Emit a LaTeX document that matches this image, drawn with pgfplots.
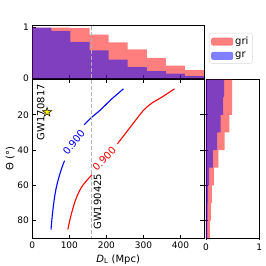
\documentclass[border=0pt]{standalone}
\usepackage{fontspec}
\setmainfont{DejaVu Sans}
\usepackage{pgfplots}
\pgfplotsset{compat=1.18}

\pgfdeclareplotmark{fstar}{%
 \pgfpathmoveto{\pgfpointpolar{90}{\pgfplotmarksize}}%
 \pgfpathlineto{\pgfpointpolar{126}{0.382*\pgfplotmarksize}}%
 \pgfpathlineto{\pgfpointpolar{162}{\pgfplotmarksize}}%
 \pgfpathlineto{\pgfpointpolar{198}{0.382*\pgfplotmarksize}}%
 \pgfpathlineto{\pgfpointpolar{234}{\pgfplotmarksize}}%
 \pgfpathlineto{\pgfpointpolar{270}{0.382*\pgfplotmarksize}}%
 \pgfpathlineto{\pgfpointpolar{306}{\pgfplotmarksize}}%
 \pgfpathlineto{\pgfpointpolar{342}{0.382*\pgfplotmarksize}}%
 \pgfpathlineto{\pgfpointpolar{18}{\pgfplotmarksize}}%
 \pgfpathlineto{\pgfpointpolar{54}{0.382*\pgfplotmarksize}}%
 \pgfpathclose
 \pgfusepathqfillstroke}

\begin{document}
\begin{tikzpicture}
\useasboundingbox (0pt,0pt) rectangle (266pt,266pt);
\pgfplotsset{
  every axis/.append style={
    scale only axis,
    axis line style={line width=0.8pt, black},
    tick style={line width=0.7pt, black},
    major tick length=3.5pt,
    tick label style={font=\fontsize{9}{10}\selectfont},
    label style={font=\fontsize{10}{12}\selectfont},
    /pgf/number format/assume math mode=true,
  },
}
% ---------------- main axis ----------------
\begin{axis}[
  at={(32.3pt,27.7pt)}, anchor=south west,
  width=171.7pt, height=158.8pt,
  xmin=0, xmax=463.5, ymin=0, ymax=90, y dir=reverse,
  xtick={0,100,200,300,400}, ytick={20,40,60,80},
  tick align=inside,
  xlabel={\textit{D}\textsubscript{L} (Mpc)},
  ylabel={Θ (°)},
  xlabel style={at={(axis description cs:0.5,-0.132)}, anchor=center},
  ylabel style={at={(axis description cs:-0.128,0.5)}, anchor=center},
]
\addplot[blue, line width=1.1pt, smooth] coordinates {(50.5,85) (54,77) (58.5,69) (64,62) (71,56) (79,50.5) (87,46)};
\addplot[blue, line width=1.1pt, smooth] coordinates {(140,25.6) (160,21.5) (183,17.4) (214.6,11) (246,5.3)};
\addplot[red, line width=1.1pt, smooth] coordinates {(96,85) (101,80) (107,75) (114,70) (121,66) (130,62) (138,59.5) (150,56.5) (161,54)};
\addplot[red, line width=1.1pt, smooth] coordinates {(230,36.4) (237,34.5) (273,24.7) (300,17.5) (322.7,13.4) (349.7,10) (383.8,5.3)};
\addplot[gray!60, line width=1pt, dash pattern=on 4pt off 2pt] coordinates {(159,0) (159,90)};
\addplot[only marks, mark=fstar, mark size=4.8pt, mark options={fill=yellow, draw=black, line width=0.5pt}] coordinates {(40,18.5)};
\node[rotate=90, font=\fontsize{10}{12}\selectfont] at (axis cs:23,18.5) {GW170817};
\node[rotate=90, font=\fontsize{10}{12}\selectfont] at (axis cs:176,69.3) {GW190425};
\node[blue, rotate=52, font=\fontsize{10}{12}\selectfont] at (axis cs:112,35.5) {0.900};
\node[red, rotate=46, font=\fontsize{10}{12}\selectfont] at (axis cs:194,45) {0.900};
\end{axis}
% ---------------- top histogram ----------------
\begin{axis}[
  at={(32.3pt,187.7pt)}, anchor=south west,
  width=171.7pt, height=53.3pt,
  xmin=0, xmax=463.5, ymin=0, ymax=1.05,
  xtick={100,200,300,400}, xticklabels={},
  ytick={0,1}, xtick pos=bottom, ytick pos=left,
  tick align=inside,
  legend style={at={(axis description cs:1.029,0.85)}, anchor=north west,
    draw=gray!30, rounded corners=2pt, font=\fontsize{10}{12}\selectfont,
    inner xsep=2pt, inner ysep=2pt, row sep=2pt},
  legend cell align=left,
  legend image code/.code={\fill[#1] (0pt,-4pt) rectangle (22pt,4pt);},
]
\addplot[const plot, fill=red, fill opacity=0.5, draw=none] coordinates {(0,1.0) (51.5,1.0) (103,0.99) (154.5,0.86) (206,0.71) (257.5,0.57) (309,0.40) (360.5,0.25) (412,0.16) (463.5,0.16)} \closedcycle;
\addlegendentry{gri}
\addplot[const plot, fill=blue, fill opacity=0.5, draw=none] coordinates {(0,1.0) (51.5,0.935) (103,0.72) (154.5,0.55) (206,0.37) (257.5,0.22) (309,0.14) (360.5,0.09) (412,0.045) (463.5,0.045)} \closedcycle;
\addlegendentry{gr}
\addplot[gray!60, line width=1pt, dash pattern=on 4pt off 2pt, forget plot] coordinates {(159,0) (159,1.05)};
\node[fill=yellow, draw=black, rounded corners=2.5pt, inner xsep=3.5pt, inner ysep=0pt, minimum height=16pt, anchor=south, font=\fontsize{10}{12}\selectfont] at (rel axis cs:0.5,1) {\textit{m}\textsubscript{lim} = 23};
\end{axis}
% ---------------- right histogram ----------------
\begin{axis}[
  at={(206pt,27.7pt)}, anchor=south west,
  width=53.3pt, height=158.8pt,
  xmin=0, xmax=1, ymin=0, ymax=90, y dir=reverse,
  xtick={0,1}, ytick={20,40,60,80}, yticklabels={},
  xtick pos=bottom, ytick pos=left, tick align=center,
]
\addplot[fill=red, fill opacity=0.5, draw=none] coordinates {(0,0) (0.49,0) (0.49,20) (0.44,20) (0.44,30) (0.35,30) (0.35,40) (0.23,40) (0.23,50) (0.15,50) (0.15,60) (0.11,60) (0.11,70) (0.09,70) (0.09,80) (0.075,80) (0.075,90) (0,90)} -- cycle;
\addplot[fill=blue, fill opacity=0.5, draw=none] coordinates {(0,0) (0.34,0) (0.34,10) (0.32,10) (0.32,20) (0.275,20) (0.275,30) (0.21,30) (0.21,40) (0.13,40) (0.13,50) (0.06,50) (0.06,60) (0.04,60) (0.04,70) (0.03,70) (0.03,80) (0.025,80) (0.025,90) (0,90)} -- cycle;
\end{axis}
\end{tikzpicture}
\end{document}
